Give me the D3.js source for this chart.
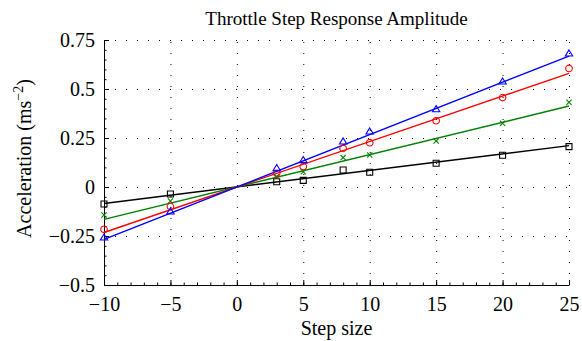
<!DOCTYPE html>
<html>
<head>
<meta charset="utf-8">
<script src="https://cdn.jsdelivr.net/npm/d3@7"></script>
<style>
  body { margin: 0; background: #fff; }
  svg text { font-family: "Liberation Serif", "Times New Roman", serif; fill: #000; }
</style>
</head>
<body>
<div id="chart"></div>
<script>
// step sizes where the response was measured
const stepSizes = [-10, -5, 3, 5, 8, 10, 15, 20, 25];

// measured amplitudes (ms^-2), one array per series
const blackVals = [-0.087, -0.036, 0.027, 0.034, 0.087, 0.075, 0.121, 0.162, 0.206];
const greenVals = [-0.143, -0.071, 0.053, 0.078, 0.150, 0.163, 0.235, 0.325, 0.432];
const redVals   = [-0.216, -0.100, 0.070, 0.104, 0.197, 0.226, 0.338, 0.456, 0.605];
const blueVals  = [-0.259, -0.126, 0.095, 0.136, 0.231, 0.282, 0.396, 0.537, 0.680];

// fitted straight lines, value at each end of the x range
const fitX      = [-10, 25];
const blackFit  = [-0.084, 0.211];
const greenFit  = [-0.165, 0.413];
const redFit    = [-0.232, 0.580];
const blueFit   = [-0.267, 0.668];

const xTicks = [-10, -5, 0, 5, 10, 15, 20, 25];
const xTickLabels = ["\u221210", "\u22125", "0", "5", "10", "15", "20", "25"];
const yTicks = [-0.5, -0.25, 0, 0.25, 0.5, 0.75];
const yTickLabels = ["\u22120.5", "\u22120.25", "0", "0.25", "0.5", "0.75"];

const series = [
  {vals: blackVals, fit: blackFit, color: "#000000", marker: "square"},
  {vals: greenVals, fit: greenFit, color: "#008000", marker: "x"},
  {vals: redVals,   fit: redFit,   color: "#ff0000", marker: "circle"},
  {vals: blueVals,  fit: blueFit,  color: "#0000ff", marker: "triangle"}
];

const width = 582, height = 341;
const margin = {top: 40, right: 13, bottom: 56, left: 104};

const svg = d3.select("#chart").append("svg")
  .attr("width", width)
  .attr("height", height);

const x = d3.scaleLinear()
  .domain([-10, 25])
  .range([margin.left, width - margin.right]);

const y = d3.scaleLinear()
  .domain([-0.5, 0.75])
  .range([height - margin.bottom, margin.top]);

// dotted grid
const grid = svg.append("g")
  .attr("stroke", "#000")
  .attr("stroke-width", 1)
  .attr("stroke-dasharray", "1 10");

grid.selectAll("line.h")
  .data(yTicks)
  .join("line")
    .attr("class", "h")
    .attr("x1", x(-10) + 11).attr("x2", x(25))
    .attr("y1", d => y(d) + 0.5).attr("y2", d => y(d) + 0.5);

grid.selectAll("line.v")
  .data(xTicks)
  .join("line")
    .attr("class", "v")
    .attr("x1", d => x(d) + 0.5).attr("x2", d => x(d) + 0.5)
    .attr("y1", y(-0.5) - 11).attr("y2", y(0.75));

// minor ticks
svg.append("g")
  .attr("transform", `translate(0, ${y(-0.5)})`)
  .call(d3.axisBottom(x).tickValues(d3.range(-10, 25.5, 1)).tickSize(-2.5).tickSizeOuter(0).tickFormat(""))
  .call(g => g.select(".domain").remove());

svg.append("g")
  .attr("transform", `translate(${x(-10)}, 0)`)
  .call(d3.axisLeft(y).tickValues(d3.range(-0.5, 0.76, 0.05)).tickSize(-2.5).tickSizeOuter(0).tickFormat(""))
  .call(g => g.select(".domain").remove());

// main axes
svg.append("g")
  .attr("transform", `translate(0, ${y(-0.5)})`)
  .call(d3.axisBottom(x).tickValues(xTicks).tickSize(-5).tickSizeOuter(0).tickPadding(12)
    .tickFormat((d, i) => xTickLabels[i]));

svg.append("g")
  .attr("transform", `translate(${x(-10)}, 0)`)
  .call(d3.axisLeft(y).tickValues(yTicks).tickSize(-5).tickSizeOuter(0).tickPadding(9)
    .tickFormat((d, i) => yTickLabels[i]));

svg.selectAll(".tick text")
  .style("font-family", "'Liberation Serif', serif")
  .style("font-size", "20px")
  .attr("fill", "#000");
svg.selectAll(".domain, .tick line").attr("stroke", "#000");

// fitted lines
const line = d3.line()
  .x(d => x(d[0]))
  .y(d => y(d[1]));

svg.append("g")
  .selectAll("path")
  .data(series)
  .join("path")
    .attr("fill", "none")
    .attr("stroke", d => d.color)
    .attr("stroke-width", 1.4)
    .attr("d", d => line(fitX.map((v, i) => [v, d.fit[i]])));

// markers
const cp = d3.path();
cp.arc(0, 0, 3.3, 0, 2 * Math.PI);
const markerPath = {
  square: "M-3,-3H3V3H-3Z",
  x: "M-2.6,-2.6L2.6,2.6M-2.6,2.6L2.6,-2.6",
  circle: cp.toString(),
  triangle: "M0,-3.8L3.7,2.3H-3.7Z"
};

svg.append("g")
  .selectAll("g")
  .data(series)
  .join("g")
    .attr("stroke", d => d.color)
    .attr("fill", "none")
    .attr("stroke-width", 1.1)
    .each(function(s) {
      d3.select(this).selectAll("path")
        .data(stepSizes.map((v, i) => [v, s.vals[i]]))
        .join("path")
          .attr("transform", d => `translate(${x(d[0])}, ${y(d[1])})`)
          .attr("d", markerPath[s.marker]);
    });

// labels
svg.append("text")
  .attr("x", (x(-10) + x(25)) / 2)
  .attr("y", 25)
  .attr("text-anchor", "middle")
  .style("font-size", "19px")
  .text("Throttle Step Response Amplitude");

svg.append("text")
  .attr("x", (x(-10) + x(25)) / 2)
  .attr("y", 335)
  .attr("text-anchor", "middle")
  .style("font-size", "20px")
  .text("Step size");

const yl = svg.append("text")
  .attr("text-anchor", "middle")
  .attr("transform", `translate(31, ${(y(-0.5) + y(0.75)) / 2 - 4}) rotate(-90)`)
  .style("font-size", "20px");
yl.append("tspan").text("Acceleration (ms");
yl.append("tspan").attr("dy", -8).style("font-size", "14px").text("\u22122");
yl.append("tspan").attr("dy", 8).text(")");
</script>
</body>
</html>
